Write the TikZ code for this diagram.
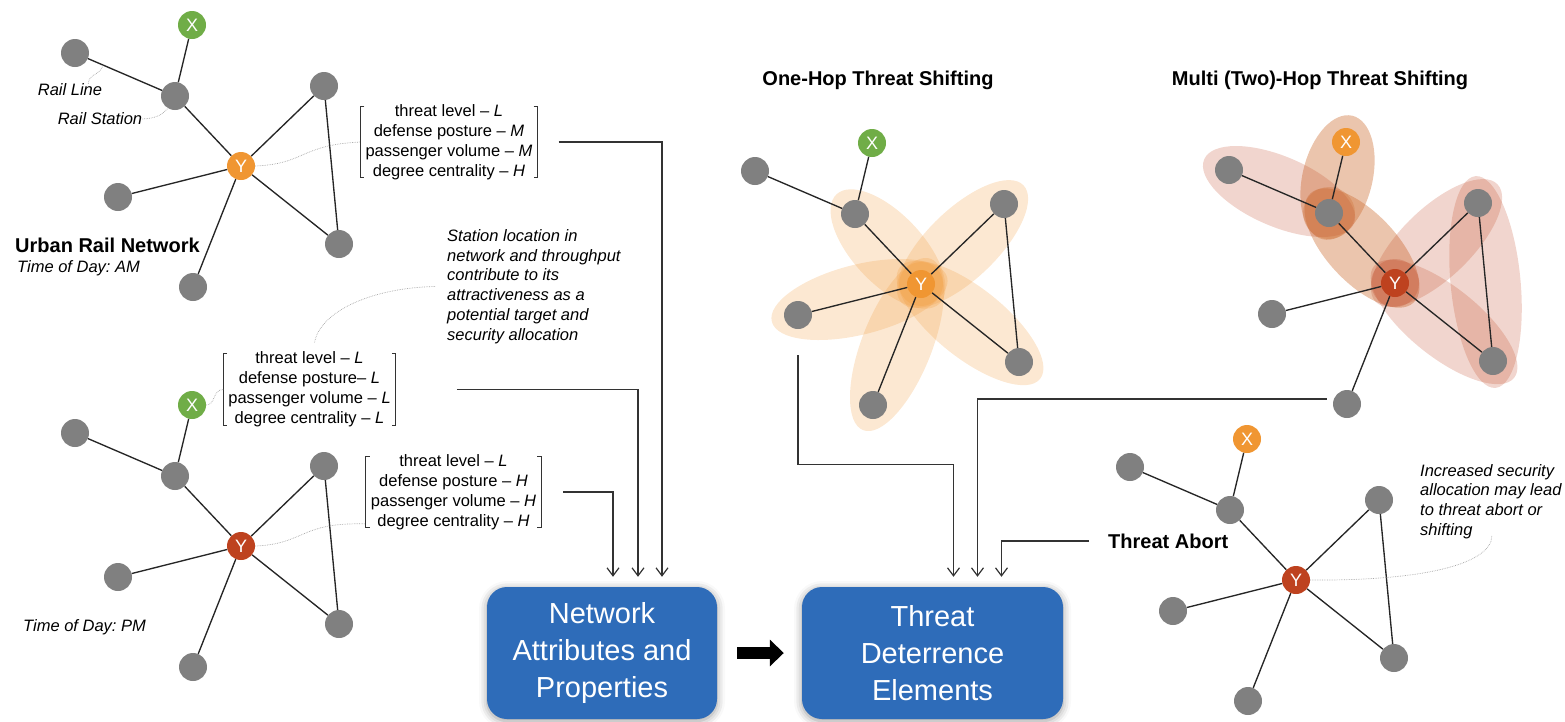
\documentclass[tikz,border=0pt]{standalone}
\usepackage{fontspec}
\setmainfont{Liberation Sans}
\frenchspacing
\usetikzlibrary{positioning}
\usetikzlibrary{calc}
\usetikzlibrary{arrows.meta}
\usetikzlibrary{backgrounds}
\usetikzlibrary{shadows.blur}

% one small rail network, Y station at #2
\newcommand{\railnet}[4]{%
  \begin{scope}[shift={#2}]
    \node[stn] (#1a) at (-166,-113) {};
    \node[stn] (#1s) at (-66,-70) {};
    \node[hub,fill=#3] (#1x) at (-49,-141) {X};
    \node[hub,fill=#4] (#1y) at (0,0) {Y};
    \node[stn] (#1u) at (83,-80) {};
    \node[stn] (#1l) at (-123,31) {};
    \node[stn] (#1r) at (98,78) {};
    \node[stn] (#1b) at (-48,121) {};
  \end{scope}
  \draw[rail] (#1a) -- (#1s) -- (#1y) -- (#1u) -- (#1r) -- (#1y);
  \draw[rail] (#1x) -- (#1s) (#1l) -- (#1y) -- (#1b);
}

% shaded ellipse round two stations
\newcommand{\hop}[4]{%
  \path[fill=#3,fill opacity=#4]
    let \p1=($(#2)-(#1)$), \n1={atan2(\y1,\x1)}, \n2={veclen(\x1,\y1)/2+27pt}
    in ($(#1)!0.5!(#2)$) ellipse [x radius=\n2, y radius=35pt, rotate=\n1];
}

\begin{document}
\begin{tikzpicture}[x=1pt,y=-1pt,
	>={Straight Barb[length=8pt,width=12pt]},
	stn/.style={circle,fill=stngray,minimum size=28pt,inner sep=0pt},
	hub/.style={stn,text=white,font=\fontsize{18}{18}\selectfont},
	rail/.style={draw=black!85,line width=1.35pt},
	note/.style={draw=gray!70,line width=0.7pt,densely dotted},
	feed/.style={->,draw=black!80,line width=1.2pt},
	attr/.style={align=center,inner xsep=5pt,inner ysep=0pt,font=\fontsize{16.5}{20}\selectfont},
	brk/.style={draw=black!80,line width=1pt},
	remark/.style={align=left,inner sep=0pt,font=\fontsize{16.5}{19.8}\selectfont\itshape},
	heading/.style={inner sep=0pt,font=\fontsize{20}{24}\selectfont\bfseries},
	stage/.style={rounded corners=20pt,fill=boxblue,text=white,align=center,
		minimum height=132pt,font=\fontsize{29}{37}\selectfont,
		blur shadow={shadow xshift=0pt,shadow yshift=-2pt,shadow blur radius=8pt,shadow opacity=40}}]
	
	\definecolor{stngray}{RGB}{128,128,128}
	\definecolor{hubgreen}{RGB}{112,173,71}
	\definecolor{huborange}{RGB}{240,150,50}
	\definecolor{hubred}{RGB}{190,66,31}
	\definecolor{hubtan}{RGB}{205,110,50}
	\definecolor{boxblue}{RGB}{46,108,185}
	
	\useasboundingbox (0,0) rectangle (1565,721);
	
	% networks
	\railnet{am}{(241,166)}{hubgreen}{huborange}
	\railnet{pm}{(241,546)}{hubgreen}{hubred}
	\railnet{one}{(921,284)}{hubgreen}{huborange}
	\railnet{two}{(1395,283)}{huborange}{hubred}
	\railnet{ab}{(1296,580)}{huborange}{hubred}
	
	% labels
	\node[remark] (railline) at (70,90) {Rail Line};
	\node[remark] (railstn) at (100,119) {Rail Station};
	\node[heading,anchor=west] (urban) at (15,245) {Urban Rail Network};
	\node[remark] (amtime) [below=8pt of urban.south west,anchor=north west,xshift=2pt] {Time of Day: AM};
	\node[remark,anchor=west] (pmtime) at (23,627) {Time of Day: PM};
	\node[heading] (onehop) at (878,80) {One-Hop Threat Shifting};
	\node[heading] (twohop) at (1320,80) {Multi (Two)-Hop Threat Shifting};
	\node[heading,anchor=west] (abort) at (1108,541) {Threat Abort};
	\node[remark,anchor=west] (stnnote) at (447,286.5) {Station location in\\network and throughput\\contribute to its\\attractiveness as a\\potential target and\\security allocation};
	\node[remark,anchor=west] (incnote) at (1420,501.5) {Increased security\\allocation may lead\\to threat abort or\\shifting};
	
	% attribute vectors
	\node[attr] (attrAM) at (449,142) {threat level – \textit{L}\\defense posture – \textit{M}\\passenger volume – \textit{M}\\degree centrality – \textit{H}};
	\node[attr] (attrPMx) at (309.5,389.5) {threat level – \textit{L}\\defense posture– \textit{L}\\passenger volume – \textit{L}\\degree centrality – \textit{L}};
	\node[attr] (attrPMy) at (453.5,492) {threat level – \textit{L}\\defense posture – \textit{H}\\passenger volume – \textit{H}\\degree centrality – \textit{H}};
	\foreach \b in {attrAM,attrPMx,attrPMy}{
		\draw[brk] ([xshift=4pt,yshift=-2pt]\b.north west) -- ([yshift=-2pt]\b.north west) -- ([yshift=2pt]\b.south west) -- ([xshift=4pt,yshift=2pt]\b.south west);
		\draw[brk] ([xshift=-4pt,yshift=-2pt]\b.north east) -- ([yshift=-2pt]\b.north east) -- ([yshift=2pt]\b.south east) -- ([xshift=-4pt,yshift=2pt]\b.south east);
	}
	
	% pointer curves
	\coordinate (online) at ($(ama)!0.28!(ams)$);
	\draw[note] ([xshift=-14pt]railline.north east) .. controls +(0,-10) and (101,75) .. (online);
	\draw[note] (railstn.east) .. controls (160,118) and (163,113) .. (ams.240);
	\draw[note] (amy.east) .. controls (305,164) and (300,145) .. (attrAM.west);
	\draw[note] (pmx.east) .. controls (216,405) and (212,390) .. (attrPMx.west);
	\draw[note] (pmy.east) .. controls (305,544) and (300,522) .. ([yshift=6pt]attrPMy.south west);
	\draw[note] ([xshift=-12pt]stnnote.west) .. controls (370,288) and (320,312) .. ([xshift=5pt,yshift=9pt]attrPMx.north);
	\draw[note] (aby.east) .. controls (1420,581) and (1492,565) .. ([xshift=72pt,yshift=4pt]incnote.south west);
	
	% blocks
	\node[stage,minimum width=230pt] (attrbox) at (602,653) {Network\\Attributes and\\Properties};
	\node[stage,minimum width=261pt] (deterbox) at (932.5,653) {Threat\\Deterrence\\Elements};
	\draw[line width=12pt,-{Triangle[length=14pt,width=26pt]},shorten <=20pt,shorten >=18pt] (attrbox) -- (deterbox);
	
	\coordinate (na1) at ([xshift=11pt,yshift=10pt]attrbox.north);
	\coordinate (na2) at ([xshift=36pt,yshift=10pt]attrbox.north);
	\coordinate (na3) at ([xshift=60pt,yshift=10pt]attrbox.north);
	\coordinate (td1) at ([xshift=21pt,yshift=10pt]deterbox.north);
	\coordinate (td2) at ([xshift=45pt,yshift=10pt]deterbox.north);
	\coordinate (td3) at ([xshift=69pt,yshift=10pt]deterbox.north);
	
	\draw[feed] ([xshift=21pt]attrAM.east) -| (na3);
	\draw[feed] ([xshift=61pt]attrPMx.east) -| (na2);
	\draw[feed] ([xshift=22pt]attrPMy.east) -| (na1);
	\draw[feed] ([yshift=-26pt]onel.south) |- ([yshift=112pt]td1) -- (td1);
	\draw[feed] ([xshift=-6pt,yshift=5pt]twob.west) -| (td2);
	\draw[feed] ([xshift=-19pt]abort.west) -| (td3);
	
	% threat shifting shades
	\begin{scope}[on background layer]
		\foreach \nb in {s,u,l,r,b}{\hop{oney}{one\nb}{huborange}{0.22}}
		\fill[huborange,fill opacity=0.25] (oney) circle[radius=22pt];
		\hop{twox}{twos}{hubtan}{0.4}
		\hop{twos}{twoy}{hubtan}{0.4}
		\foreach \ea/\eb in {twoa/twos,twoy/twou,twoy/twor,twou/twor}{\hop{\ea}{\eb}{hubred}{0.22}}
		\fill[hubtan,fill opacity=0.3] (twos) circle[radius=26pt];
		\fill[hubred,fill opacity=0.25] (twoy) circle[radius=24pt];
	\end{scope}
\end{tikzpicture}
\end{document}
